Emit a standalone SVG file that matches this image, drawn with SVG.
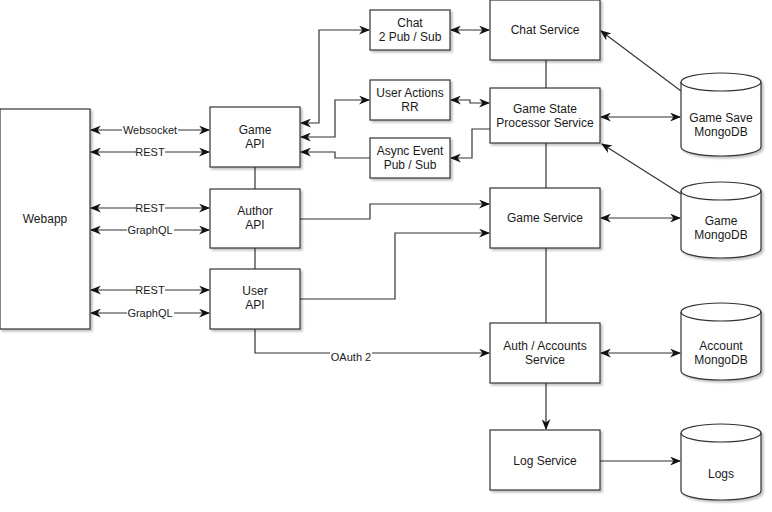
<svg xmlns="http://www.w3.org/2000/svg" width="772" height="512" viewBox="0 0 772 512">
<defs>
<filter id="sh" x="-10%" y="-10%" width="130%" height="130%">
<feDropShadow dx="2" dy="2" stdDeviation="1.2" flood-color="#000" flood-opacity="0.25"/>
</filter>
<marker id="ah" viewBox="0 0 10 8" refX="9" refY="4" markerWidth="11" markerHeight="9" markerUnits="userSpaceOnUse" orient="auto-start-reverse">
<path d="M0,0 L10,4 L0,8 L3,4 z" fill="#111"/>
</marker>
<style>
.box{fill:#fff;stroke:#333;stroke-width:1.2;filter:url(#sh)}
.t{font-family:"Liberation Sans",Arial,sans-serif;font-size:12px;fill:#1a1a1a;text-anchor:middle}
.lt{font-family:"Liberation Sans",Arial,sans-serif;font-size:11px;fill:#1a1a1a;text-anchor:middle}
.c{fill:none;stroke:#333;stroke-width:1.2}
.a{marker-end:url(#ah)}
.b{marker-start:url(#ah);marker-end:url(#ah)}
.lb{fill:#fff}
</style>
</defs>
<rect width="772" height="512" fill="#fff"/>
<g id="connectors">
<path class="c b" d="M91,130 H209"/>
<path class="c b" d="M91,152 H209"/>
<path class="c b" d="M91,208 H209"/>
<path class="c b" d="M91,230 H209"/>
<path class="c b" d="M91,290 H209"/>
<path class="c b" d="M91,313 H209"/>
<path class="c" d="M255,167 V189"/>
<path class="c" d="M255,248 V269"/>
<path class="c b" d="M301,123 H319 V30 H369"/>
<path class="c b" d="M301,137 H335 V100 H369"/>
<path class="c a" d="M370,158 H335 V152 H301"/>
<path class="c a" d="M490,129 H472 V158 H451"/>
<path class="c b" d="M451,30 H489"/>
<path class="c b" d="M451,100 H470 V103 H489"/>
<path class="c" d="M546,60 V88"/>
<path class="c" d="M546,143 V188"/>
<path class="c" d="M546,248 V323"/>
<path class="c a" d="M546,383 V429"/>
<path class="c a" d="M300,219 H370 V204 H489"/>
<path class="c a" d="M300,299 H395 V233 H489"/>
<path class="c a" d="M255,329 V353 H489"/>
<path class="c a" d="M681,91 L601,31"/>
<path class="c b" d="M601,117 H680"/>
<path class="c a" d="M681,194 L602,144"/>
<path class="c b" d="M601,218 H680"/>
<path class="c b" d="M601,353 H680"/>
<path class="c a" d="M600,461 H680"/>
<rect class="lb" x="122" y="123" width="56" height="14"/>
<text class="lt" x="150" y="134">Websocket</text>
<rect class="lb" x="136" y="145" width="29" height="14"/>
<text class="lt" x="150" y="156">REST</text>
<rect class="lb" x="136" y="201" width="29" height="14"/>
<text class="lt" x="150" y="212">REST</text>
<rect class="lb" x="127" y="223" width="47" height="14"/>
<text class="lt" x="150" y="234">GraphQL</text>
<rect class="lb" x="136" y="283" width="29" height="14"/>
<text class="lt" x="150" y="294">REST</text>
<rect class="lb" x="127" y="306" width="47" height="14"/>
<text class="lt" x="150" y="317">GraphQL</text>
<rect class="lb" x="330" y="346" width="42" height="14"/>
<text class="lt" x="351" y="361">OAuth 2</text>
</g>
<g id="webapp"><rect class="box" x="0" y="109" width="90" height="220"/><text class="t" x="45" y="223">Webapp</text></g>
<g id="game-api"><rect class="box" x="210" y="107" width="90" height="60"/><text class="t" x="255" y="134">Game</text><text class="t" x="255" y="148">API</text></g>
<g id="author-api"><rect class="box" x="210" y="189" width="90" height="59"/><text class="t" x="255" y="215">Author</text><text class="t" x="255" y="229">API</text></g>
<g id="user-api"><rect class="box" x="210" y="269" width="90" height="60"/><text class="t" x="255" y="295">User</text><text class="t" x="255" y="309">API</text></g>
<g id="chat-pubsub"><rect class="box" x="370" y="10" width="80" height="40"/><text class="t" x="410" y="27">Chat</text><text class="t" x="410" y="41">2 Pub / Sub</text></g>
<g id="user-actions"><rect class="box" x="370" y="80" width="80" height="40"/><text class="t" x="410" y="97">User Actions</text><text class="t" x="410" y="111">RR</text></g>
<g id="async-event"><rect class="box" x="370" y="138" width="80" height="40"/><text class="t" x="410" y="155">Async Event</text><text class="t" x="410" y="169">Pub / Sub</text></g>
<g id="chat-service"><rect class="box" x="490" y="0" width="110" height="60"/><text class="t" x="545" y="34">Chat Service</text></g>
<g id="game-state"><rect class="box" x="490" y="88" width="110" height="55"/><text class="t" x="545" y="113">Game State</text><text class="t" x="545" y="127">Processor Service</text></g>
<g id="game-service"><rect class="box" x="490" y="188" width="110" height="60"/><text class="t" x="545" y="222">Game Service</text></g>
<g id="auth-service"><rect class="box" x="490" y="323" width="110" height="60"/><text class="t" x="545" y="350">Auth / Accounts</text><text class="t" x="545" y="364">Service</text></g>
<g id="log-service"><rect class="box" x="490" y="430" width="110" height="60"/><text class="t" x="545" y="465">Log Service</text></g>
<g id="game-save-db"><path class="box" d="M681,82 A40,9 0 0 1 761,82 V147 A40,9 0 0 1 681,147 Z"/><path class="c" d="M681,82 A40,9 0 0 0 761,82"/><text class="t" x="721" y="122">Game Save</text><text class="t" x="721" y="136">MongoDB</text></g>
<g id="game-db"><path class="box" d="M681,191 A40,9 0 0 1 761,191 V249 A40,9 0 0 1 681,249 Z"/><path class="c" d="M681,191 A40,9 0 0 0 761,191"/><text class="t" x="721" y="225">Game</text><text class="t" x="721" y="239">MongoDB</text></g>
<g id="account-db"><path class="box" d="M681,312 A40,9 0 0 1 761,312 V371 A40,9 0 0 1 681,371 Z"/><path class="c" d="M681,312 A40,9 0 0 0 761,312"/><text class="t" x="721" y="350">Account</text><text class="t" x="721" y="364">MongoDB</text></g>
<g id="logs-db"><path class="box" d="M681,433 A40,9 0 0 1 761,433 V491 A40,9 0 0 1 681,491 Z"/><path class="c" d="M681,433 A40,9 0 0 0 761,433"/><text class="t" x="721" y="478">Logs</text></g>
</svg>
